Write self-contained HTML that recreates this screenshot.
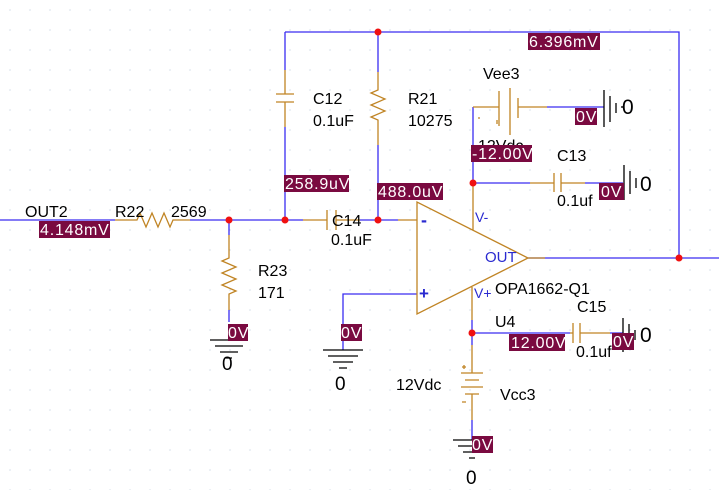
<!DOCTYPE html>
<html><head><meta charset="utf-8"><style>
html,body{margin:0;padding:0;background:#fff}
svg{display:block}
text{font-family:"Liberation Sans",Arial,sans-serif;font-size:16px;fill:#000}
.w{stroke:#3a2cf0;stroke-width:1.3;fill:none}
.c{stroke:#c08424;stroke-width:1.3;fill:none}
.g{stroke:#000;stroke-width:1.3;fill:none}
.b{fill:#7a0a40}
.bt{fill:#fff;font-size:16px;letter-spacing:0.8px}
.d{fill:#f01010}
</style></head><body>
<svg width="719" height="490" viewBox="0 0 719 490" xmlns="http://www.w3.org/2000/svg">
<defs><pattern id="p" width="20" height="20" patternUnits="userSpaceOnUse"><circle cx="10" cy="10" r="0.6" fill="#bcd"/></pattern></defs>
<rect width="719" height="490" fill="url(#p)"/>
<path class="w" d="M0 220H115 M190 220H303 M360 220H398 M285 32H679V258 M528 258H719 M285 32V70 M285 127V220 M378 32V72 M378 145V220 M473 107V183 M473 183H530 M585 183H623 M547 107H604 M472 320V333H570 M610 333H623 M472 345V333 M472 420V440 M229 220V235 M229 310V322 M417 294H343V350"/>
<path class="c" d="M115 220H137l3 -7 6 14 6 -14 6 14 6 -14 6 14 3 -7H190"/>
<path class="c" d="M229 235V258l-7 3 14 6 -14 6 14 6 -14 6 14 6 -7 3V310"/>
<path class="c" d="M378 72V90l-7 3 14 6 -14 6 14 6 -14 6 7 3V145"/>
<path class="c" d="M285 70V94 M276 94H294 M276 102H294 M285 102V127"/>
<path class="c" d="M303 220H327 M327 210V230 M336 210V230 M336 220H360"/>
<path class="c" d="M398 220H417 M417 202V314L528 258Z M528 258H545 M473 183V230 M472 287V320"/>
<path class="c" d="M473 107H499 M499 91V126 M510 88V135 M518 98V118 M518 107H547"/>
<path class="c" d="M530 183H554 M554 173V192 M561 173V192 M561 183H585"/>
<path class="c" d="M570 333H573 M573 323V343 M580 323V343 M580 333H610"/>
<path class="c" d="M472 345V373 M461 373H483 M465 380H479 M461 387H483 M465 394H479 M472 394V420"/>
<path class="c" d="M478 118H480 M497 120V124 M462 367H466 M464 365V369 M462 402H466"/>
<path class="g" d="M210 340H248 M215 346H243 M220 352H238 M226 358H232"/>
<path class="g" d="M323 350H363 M328 356H358 M333 362H353 M339 368H347"/>
<path class="g" d="M453 440H491 M458 446H486 M463 452H481 M469 458H475"/>
<path class="g" d="M604 90V127 M610 96V122 M616 103V113 M622 106V108"/>
<path class="g" d="M624 165V200 M630 171V194 M636 178V188"/>
<path class="g" d="M623 318V352 M629 324V346 M635 330V340"/>
<circle class="d" cx="229" cy="220" r="3.5"/><circle class="d" cx="285" cy="220" r="3.5"/>
<circle class="d" cx="378" cy="220" r="3.5"/><circle class="d" cx="378" cy="32" r="3.5"/>
<circle class="d" cx="473" cy="183" r="3.5"/><circle class="d" cx="472" cy="333" r="3.5"/>
<circle class="d" cx="679" cy="258" r="3.5"/>
<text x="25" y="217">OUT2</text><text x="115" y="217">R22</text><text x="171" y="217">2569</text>
<text x="258" y="276">R23</text><text x="258" y="298">171</text>
<text x="313" y="104">C12</text><text x="313" y="126">0.1uF</text>
<text x="408" y="104">R21</text><text x="408" y="126">10275</text>
<text x="332" y="226">C14</text><text x="331" y="245">0.1uF</text>
<text x="483" y="79">Vee3</text><text x="478" y="151">12Vdc</text>
<text x="557" y="161">C13</text><text x="557" y="206">0.1uf</text>
<text x="577" y="312">C15</text><text x="576" y="357">0.1uf</text>
<text x="495" y="294">OPA1662-Q1</text><text x="495" y="327">U4</text>
<text x="396" y="390">12Vdc</text><text x="500" y="400">Vcc3</text>
<text x="485" y="262" style="fill:#2a2ad0;font-size:15px">OUT</text>
<text x="475" y="222" style="fill:#2a2ad0;font-size:14px">V-</text>
<text x="474" y="298" style="fill:#2a2ad0;font-size:14px">V+</text>
<text x="421" y="226" style="fill:#2a2ad0;font-size:18px;font-weight:bold">-</text>
<text x="419" y="299" style="fill:#2a2ad0;font-size:17px;font-weight:bold">+</text>
<text x="222" y="370" style="font-size:19px">0</text><text x="335" y="390" style="font-size:19px">0</text>
<text x="466" y="484" style="font-size:19px">0</text>
<text x="622" y="114" style="font-size:21px">0</text><text x="640" y="191" style="font-size:21px">0</text>
<text x="640" y="342" style="font-size:21px">0</text>
<rect class="b" x="39" y="221" width="71" height="17"/><text class="bt" x="40" y="235">4.148mV</text>
<rect class="b" x="284" y="175" width="65" height="17"/><text class="bt" x="285" y="189">258.9uV</text>
<rect class="b" x="377" y="183" width="66" height="17"/><text class="bt" x="378" y="197">488.0uV</text>
<rect class="b" x="528" y="33" width="72" height="17"/><text class="bt" x="529" y="47">6.396mV</text>
<rect class="b" x="471" y="145" width="61" height="17"/><text class="bt" x="472" y="159">-12.00V</text>
<rect class="b" x="575" y="108" width="22" height="17"/><text class="bt" x="576" y="122">0V</text>
<rect class="b" x="599" y="183" width="25" height="17"/><text class="bt" x="601" y="197">0V</text>
<rect class="b" x="509" y="334" width="56" height="17"/><text class="bt" x="511" y="348">12.00V</text>
<rect class="b" x="612" y="333" width="22" height="17"/><text class="bt" x="613" y="347">0V</text>
<rect class="b" x="228" y="324" width="20" height="17"/><text class="bt" x="228" y="338">0V</text>
<rect class="b" x="341" y="324" width="21" height="17"/><text class="bt" x="341" y="338">0V</text>
<rect class="b" x="472" y="436" width="21" height="17"/><text class="bt" x="472" y="450">0V</text>
</svg>
</body></html>
